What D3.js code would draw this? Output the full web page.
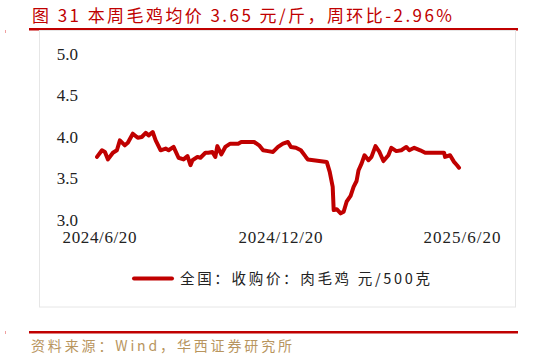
<!DOCTYPE html>
<html><head><meta charset="utf-8">
<script src="https://cdn.jsdelivr.net/npm/d3@7"></script>
<style>body{margin:0;background:#fff}svg{display:block}</style>
</head><body>
<script>
const dates = ["2024-06-20","2024-06-25","2024-06-28","2024-07-01","2024-07-06","2024-07-10","2024-07-13","2024-07-18","2024-07-21","2024-07-26","2024-07-31","2024-08-04","2024-08-08","2024-08-11","2024-08-15","2024-08-18","2024-08-23","2024-08-28","2024-08-31","2024-09-05","2024-09-10","2024-09-15","2024-09-19","2024-09-22","2024-09-24","2024-09-29","2024-10-02","2024-10-07","2024-10-10","2024-10-14","2024-10-17","2024-10-19","2024-10-23","2024-10-27","2024-11-01","2024-11-09","2024-11-12","2024-11-19","2024-11-25","2024-11-30","2024-12-04","2024-12-09","2024-12-14","2024-12-19","2024-12-24","2024-12-29","2025-01-01","2025-01-06","2025-01-11","2025-01-16","2025-01-18","2025-02-06","2025-02-09","2025-02-12","2025-02-13","2025-02-16","2025-02-20","2025-02-23","2025-02-26","2025-03-02","2025-03-05","2025-03-08","2025-03-10","2025-03-13","2025-03-16","2025-03-20","2025-03-23","2025-03-27","2025-03-31","2025-04-04","2025-04-09","2025-04-12","2025-04-17","2025-04-22","2025-04-27","2025-04-30","2025-05-05","2025-05-11","2025-05-16","2025-05-23","2025-05-30","2025-06-04","2025-06-05","2025-06-10","2025-06-14","2025-06-17","2025-06-19"];
const prices = [3.76,3.84,3.82,3.73,3.81,3.84,3.96,3.90,3.93,4.04,3.99,4.00,4.05,4.02,4.06,3.96,3.84,3.86,3.84,3.88,3.75,3.73,3.77,3.66,3.72,3.76,3.75,3.81,3.81,3.82,3.76,3.89,3.79,3.88,3.92,3.92,3.94,3.94,3.94,3.90,3.84,3.83,3.82,3.88,3.92,3.94,3.88,3.87,3.84,3.76,3.73,3.70,3.58,3.40,3.12,3.13,3.08,3.10,3.22,3.29,3.40,3.47,3.60,3.68,3.78,3.72,3.76,3.89,3.82,3.71,3.78,3.87,3.83,3.84,3.88,3.84,3.87,3.84,3.81,3.81,3.81,3.81,3.76,3.78,3.70,3.66,3.63];
const yTicks = [3.0,3.5,4.0,4.5,5.0];
const xTickLabels = ["2024/6/20","2024/12/20","2025/6/20"];
const xTickDates = ["2024-06-20","2024-12-20","2025-06-20"];
const titleText = "图 31 本周毛鸡均价 3.65 元/斤，周环比-2.96%";
const legendText = "全国：收购价：肉毛鸡 元/500克";
const sourceText = "资料来源：Wind，华西证券研究所";

const W=533,H=360;
const svg=d3.select("body").append("svg").attr("width",W).attr("height",H);
const parse=d3.timeParse("%Y-%m-%d");
const red="#c00000";
const serif="'Liberation Serif','Times New Roman',serif";
const cjk="'Noto Sans CJK SC','Noto Sans',sans-serif";

// title
svg.append("text").attr("x",32).attr("y",22).attr("fill",red).attr("font-family",cjk)
  .attr("font-size",17).attr("textLength",420).attr("lengthAdjust","spacing").text(titleText);
svg.append("rect").attr("x",29).attr("y",28).attr("width",489).attr("height",2.5).attr("fill",red);
// frame
svg.append("rect").attr("x",39.5).attr("y",30.5).attr("width",476).attr("height",276.5)
  .attr("fill","none").attr("stroke","#e6e6e6").attr("stroke-width",1);
// bottom line
svg.append("rect").attr("x",29).attr("y",331).attr("width",489).attr("height",2.5).attr("fill",red);
svg.append("rect").attr("x",5).attr("y",30).attr("width",1).attr("height",3).attr("fill","#f0a0a0");
svg.append("rect").attr("x",5).attr("y",331).attr("width",1).attr("height",3).attr("fill","#f0a0a0");
svg.append("text").attr("x",31).attr("y",351).attr("fill","#b8955e").attr("font-family",cjk)
  .attr("font-size",14).attr("textLength",261).attr("lengthAdjust","spacing").text(sourceText);

const x=d3.scaleTime().domain([parse("2024-06-20"),parse("2025-06-20")]).range([97,460]);
const y=d3.scaleLinear().domain([3,5]).range([220,54]);

const yAxis=d3.axisLeft(y).tickValues(yTicks).tickFormat(d3.format(".1f")).tickSize(0).tickPadding(0);
const gy=svg.append("g").attr("transform","translate(78,0)").call(yAxis);
gy.select(".domain").remove();
gy.selectAll("text").attr("font-family",serif).attr("font-size",17).attr("fill","#222");

const xAxis=d3.axisBottom(x).tickValues(xTickDates.map(parse)).tickFormat((d,i)=>xTickLabels[i]).tickSize(0).tickPadding(0);
const gx=svg.append("g").attr("transform","translate(0,231)").call(xAxis);
gx.select(".domain").remove();
gx.selectAll("text").attr("font-family",serif).attr("font-size",17).attr("fill","#222")
  .attr("text-anchor","start")
  .attr("textLength",(d,i)=>[74,84,77][i]).attr("lengthAdjust","spacing")
  .attr("x",(d,i)=>[62,238,423][i]-x(d));

const data=dates.map((d,i)=>({d:parse(d),v:prices[i]}));
svg.append("path").datum(data).attr("fill","none").attr("stroke",red).attr("stroke-width",4)
  .attr("stroke-linejoin","round").attr("stroke-linecap","round")
  .attr("d",d3.line().x(d=>x(d.d)).y(d=>y(d.v)));

// legend
svg.append("line").attr("x1",134).attr("x2",172).attr("y1",278.5).attr("y2",278.5)
  .attr("stroke",red).attr("stroke-width",4).attr("stroke-linecap","round");
svg.append("text").attr("x",180).attr("y",284).attr("font-family",cjk).attr("font-size",14.5)
  .attr("fill","#222").attr("textLength",250).attr("lengthAdjust","spacing").text(legendText);
</script>
</body></html>
